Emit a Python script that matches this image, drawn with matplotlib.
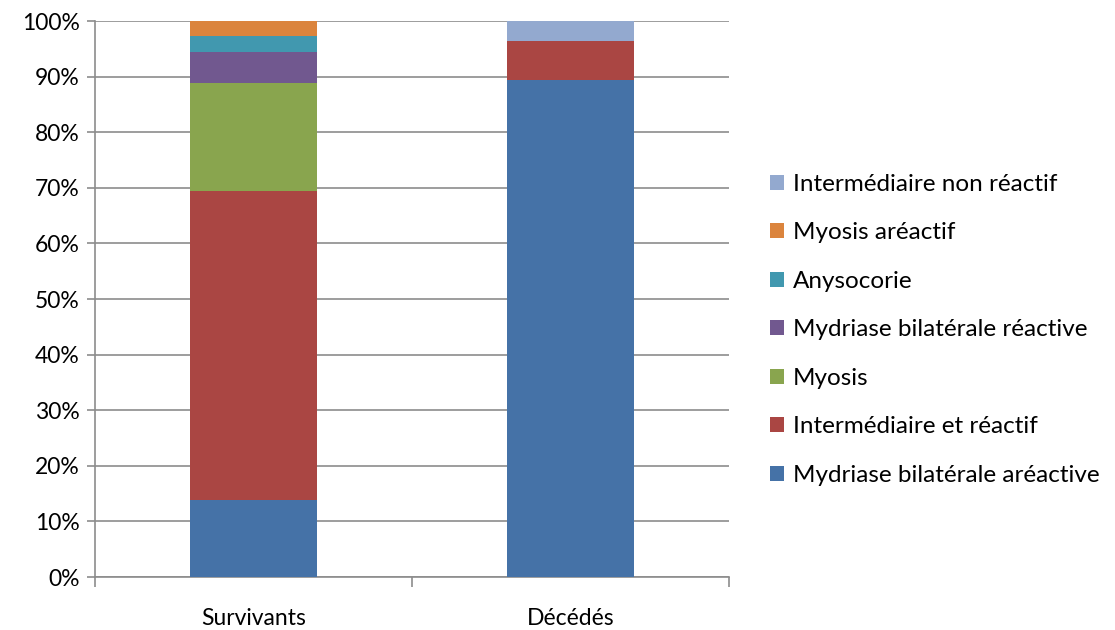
import matplotlib
matplotlib.use("Agg")
import matplotlib.pyplot as plt
from matplotlib.patches import Patch
from matplotlib.ticker import FuncFormatter, MultipleLocator, FixedLocator

categories = ["Survivants", "Décédés"]
series_names = [
    "Mydriase bilatérale aréactive",
    "Intermédiaire et réactif",
    "Myosis",
    "Mydriase bilatérale réactive",
    "Anysocorie",
    "Myosis aréactif",
    "Intermédiaire non réactif",
]
# percentages per category
mydriase_areactive = [13.9, 89.3]
intermediaire_reactif = [55.6, 7.1]
myosis = [19.4, 0.0]
mydriase_reactive = [5.6, 0.0]
anysocorie = [2.75, 0.0]
myosis_areactif = [2.75, 0.0]
intermediaire_non_reactif = [0.0, 3.6]

series = [mydriase_areactive, intermediaire_reactif, myosis, mydriase_reactive,
          anysocorie, myosis_areactif, intermediaire_non_reactif]
colors = ["#4572A7", "#AA4643", "#89A54E", "#71588F", "#4198AF", "#DB843D", "#93A9CF"]

plt.rcParams['font.family'] = ['Lato', 'DejaVu Sans']
FS = 16.5
LFS = 17.5

fig = plt.figure(figsize=(11.15, 6.3), dpi=100)
ax = fig.add_axes([95/1115, 1 - 577/630, (729-95)/1115, (577-21)/630])

x = list(range(len(categories)))
bottom = [0.0] * len(categories)
for vals, col in zip(series, colors):
    ax.bar(x, vals, width=0.4, bottom=bottom, color=col, zorder=3)
    bottom = [b + v for b, v in zip(bottom, vals)]

ax.set_xlim(-0.5, 1.5)
ax.set_ylim(0, 100)
ax.yaxis.set_major_locator(MultipleLocator(10))
ax.yaxis.set_major_formatter(FuncFormatter(lambda v, p: f"{int(v)}%"))
ax.grid(axis='y', color='#8c8c8c', linewidth=1.2, zorder=0)
ax.set_axisbelow(True)

ax.set_xticks(x)
ax.set_xticklabels(categories, fontsize=FS)
ax.tick_params(axis='x', which='major', length=0, pad=22)
ax.xaxis.set_minor_locator(FixedLocator([-0.5, 0.5, 1.5]))
ax.tick_params(axis='x', which='minor', length=7, color='#8c8c8c', width=1.2)
ax.tick_params(axis='y', length=6, color='#8c8c8c', width=1.2, labelsize=FS, pad=5)

for s in ['top', 'right']:
    ax.spines[s].set_visible(False)
for s in ['left', 'bottom']:
    ax.spines[s].set_color('#8c8c8c')
    ax.spines[s].set_linewidth(1.2)

handles = [Patch(facecolor=c) for c in colors][::-1]
labels = series_names[::-1]
fig.legend(handles, labels, loc='upper left', bbox_to_anchor=(770/1115, 1 - 174/630),
           frameon=False, fontsize=LFS, handlelength=0.58, handleheight=0.58,
           handletextpad=0.35, labelspacing=1.13, borderaxespad=0, borderpad=0)

fig.savefig("out.png", dpi=100)
